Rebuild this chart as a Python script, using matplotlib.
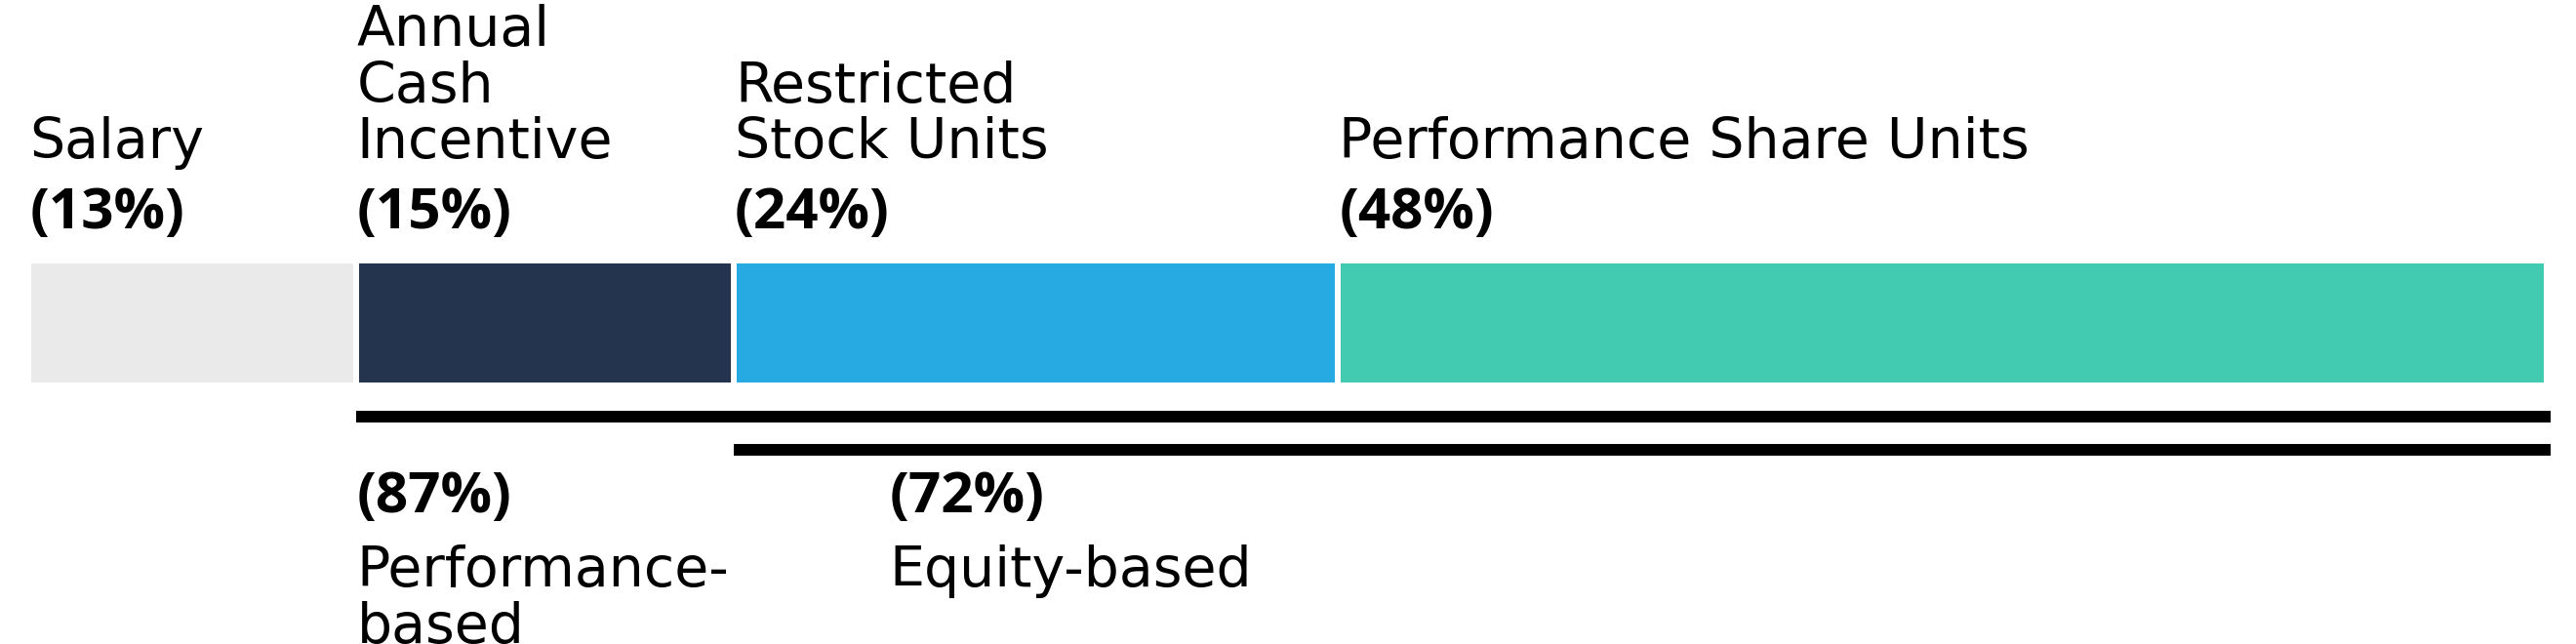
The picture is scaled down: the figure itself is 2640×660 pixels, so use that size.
import matplotlib
matplotlib.use("Agg")
import matplotlib.pyplot as plt
import numpy as np

# ---- data ----
categories = ["Salary", "Annual\nCash\nIncentive", "Restricted\nStock Units", "Performance Share Units"]
values = [13, 15, 24, 48]
value_labels = ["(13%)", "(15%)", "(24%)", "(48%)"]
colors = ["#EAEAEA", "#24344E", "#27AAE1", "#43CBB1"]

group_names = ["Performance-\nbased", "Equity-based"]
group_values = [87, 72]
group_labels = ["(87%)", "(72%)"]
group_start_index = [1, 2]   # group begins at this category

# ---- layout (pixel space of a 2640x660 canvas) ----
W, H = 2640, 660
DPI = 100
left_px, right_px = 29, 2610
ppu = (right_px - left_px) / 100.0

fig = plt.figure(figsize=(W / DPI, H / DPI), dpi=DPI)
ax = fig.add_axes([0, 0, 1, 1])
ax.set_xlim(-left_px / ppu, 100 + (W - right_px) / ppu)
ax.set_ylim(H, 0)
ax.axis("off")

starts = np.concatenate([[0], np.cumsum(values)[:-1]])

# stacked bar
ax.barh(331, values, left=starts, height=128, color=colors,
        edgecolor="white", linewidth=4.3)

reg_font = dict(family="DejaVu Sans", fontsize=41, color="black")
bold_font = dict(family="Open Sans", fontsize=42, fontweight="bold", color="black")
line_step = 57.5

# top labels
for cat, lab, s in zip(categories, value_labels, starts):
    lines = cat.split("\n")
    base = 162
    for i, ln in enumerate(reversed(lines)):
        ax.text(s + 0.05, base - i * line_step, ln, ha="left", va="baseline", **reg_font)
    ax.text(s + 0.05, 234, lab, ha="left", va="baseline", **bold_font)

# group bracket lines
line_y = [427, 460.5]
total = float(np.sum(values))
for gi, (idx, yv) in enumerate(zip(group_start_index, line_y)):
    x0 = starts[idx]
    ax.plot([x0, total + 0.15], [yv, yv], color="black", lw=8.6,
            solid_capstyle="butt")

# group labels
group_text_x = [starts[1] + 0.05, 34.2]
for name, lab, gx in zip(group_names, group_labels, group_text_x):
    ax.text(gx, 525, lab, ha="left", va="baseline", **bold_font)
    for i, ln in enumerate(name.split("\n")):
        ax.text(gx, 601 + i * line_step, ln, ha="left", va="baseline", **reg_font)

fig.savefig("out.png", dpi=DPI, facecolor="white")
